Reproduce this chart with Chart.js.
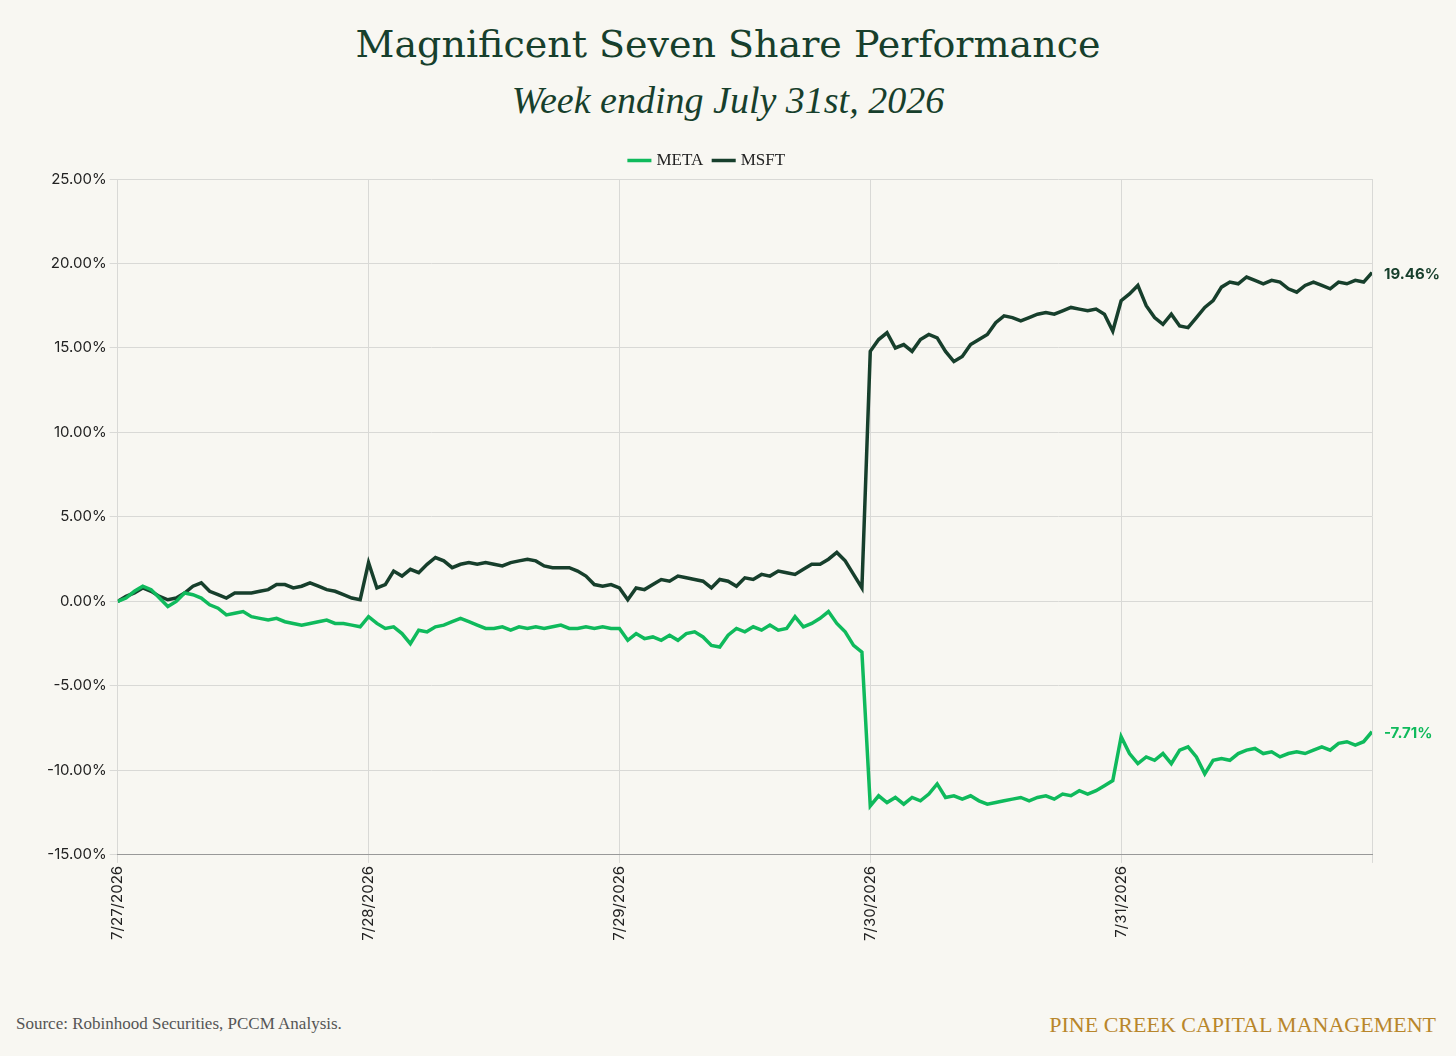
<!DOCTYPE html>
<html>
<head>
<meta charset="utf-8">
<script src="https://cdn.jsdelivr.net/npm/chart.js@4"></script>
<style>
  body { margin: 0; background: #f8f7f2; width: 1456px; height: 1056px; position: relative; overflow: hidden; }
  .titulo { position: absolute; top: 22px; width: 100%; text-align: center; font-family: "DejaVu Serif", serif; color: #173f2c; font-size: 38px; }
  .sub { position: absolute; top: 78px; width: 100%; text-align: center; font-family: "Liberation Serif", serif; font-style: italic; color: #173f2c; font-size: 38px; }
  .box { position: absolute; left: 0; top: 140px; width: 1456px; height: 804px; }
  .fonte { position: absolute; left: 16px; bottom: 22px; font-family: "Liberation Serif", serif; font-size: 17px; color: #555; }
  .marca { position: absolute; right: 20px; bottom: 18px; font-family: "Liberation Serif", serif; font-size: 22px; color: #b8862b; }
</style>
</head>
<body>
<div class="titulo">Magnificent Seven Share Performance</div>
<div class="sub">Week ending July 31st, 2026</div>
<div class="box"><canvas id="chartPerf"></canvas></div>
<div class="fonte">Source: Robinhood Securities, PCCM Analysis.</div>
<div class="marca">PINE CREEK CAPITAL MANAGEMENT</div>
<script>
document.addEventListener("DOMContentLoaded", () => {
    const dias = ["7/27/2026", "7/28/2026", "7/29/2026", "7/30/2026", "7/31/2026"];

    // retorno acumulado (%), 30 leituras por dia + fechamento
    const msft = [
        0, 0.3, 0.5, 0.8, 0.6, 0.3, 0.1, 0.2, 0.5, 0.9, 1.1, 0.6, 0.4, 0.2, 0.5, 0.5, 0.5, 0.6, 0.7, 1.0, 1.0, 0.8, 0.9, 1.1, 0.9, 0.7, 0.6, 0.4, 0.2, 0.1,
        2.3, 0.8, 1.0, 1.8, 1.5, 1.9, 1.7, 2.2, 2.6, 2.4, 2.0, 2.2, 2.3, 2.2, 2.3, 2.2, 2.1, 2.3, 2.4, 2.5, 2.4, 2.1, 2.0, 2.0, 2.0, 1.8, 1.5, 1.0, 0.9, 1.0,
        0.8, 0.1, 0.8, 0.7, 1.0, 1.3, 1.2, 1.5, 1.4, 1.3, 1.2, 0.8, 1.3, 1.2, 0.9, 1.4, 1.3, 1.6, 1.5, 1.8, 1.7, 1.6, 1.9, 2.2, 2.2, 2.5, 2.9, 2.4, 1.6, 0.8,
        14.8, 15.5, 15.9, 15.0, 15.2, 14.8, 15.5, 15.8, 15.6, 14.8, 14.2, 14.5, 15.2, 15.5, 15.8, 16.5, 16.9, 16.8, 16.6, 16.8, 17.0, 17.1, 17.0, 17.2, 17.4, 17.3, 17.2, 17.3, 17.0, 16.0,
        17.8, 18.2, 18.7, 17.5, 16.8, 16.4, 17.0, 16.3, 16.2, 16.8, 17.4, 17.8, 18.6, 18.9, 18.8, 19.2, 19.0, 18.8, 19.0, 18.9, 18.5, 18.3, 18.7, 18.9, 18.7, 18.5, 18.9, 18.8, 19.0, 18.9, 19.46
    ];
    const meta = [
        0, 0.2, 0.6, 0.9, 0.7, 0.2, -0.3, 0.0, 0.5, 0.4, 0.2, -0.2, -0.4, -0.8, -0.7, -0.6, -0.9, -1.0, -1.1, -1.0, -1.2, -1.3, -1.4, -1.3, -1.2, -1.1, -1.3, -1.3, -1.4, -1.5,
        -0.9, -1.3, -1.6, -1.5, -1.9, -2.5, -1.7, -1.8, -1.5, -1.4, -1.2, -1.0, -1.2, -1.4, -1.6, -1.6, -1.5, -1.7, -1.5, -1.6, -1.5, -1.6, -1.5, -1.4, -1.6, -1.6, -1.5, -1.6, -1.5, -1.6,
        -1.6, -2.3, -1.9, -2.2, -2.1, -2.3, -2.0, -2.3, -1.9, -1.8, -2.1, -2.6, -2.7, -2.0, -1.6, -1.8, -1.5, -1.7, -1.4, -1.7, -1.6, -0.9, -1.5, -1.3, -1.0, -0.6, -1.3, -1.8, -2.6, -3.0,
        -12.1, -11.5, -11.9, -11.6, -12.0, -11.6, -11.8, -11.4, -10.8, -11.6, -11.5, -11.7, -11.5, -11.8, -12.0, -11.9, -11.8, -11.7, -11.6, -11.8, -11.6, -11.5, -11.7, -11.4, -11.5, -11.2, -11.4, -11.2, -10.9, -10.6,
        -8.0, -9.0, -9.6, -9.2, -9.4, -9.0, -9.6, -8.8, -8.6, -9.2, -10.2, -9.4, -9.3, -9.4, -9.0, -8.8, -8.7, -9.0, -8.9, -9.2, -9.0, -8.9, -9.0, -8.8, -8.6, -8.8, -8.4, -8.3, -8.5, -8.3, -7.71
    ];

    const pontos = arr => arr.map((v, i) => ({ x: i, y: v }));

    // ----------------- RÓTULO NO ÚLTIMO PONTO -----------------
    const rotuloFinal = {
        id: "rotuloFinal",
        afterDatasetsDraw(chart) {
            const ctx = chart.ctx;
            chart.data.datasets.forEach((ds, i) => {
                const meta = chart.getDatasetMeta(i);
                const p = meta.data[meta.data.length - 1];
                const v = ds.data[ds.data.length - 1].y;
                ctx.save();
                ctx.font = "bold 15px Inter, sans-serif";
                ctx.fillStyle = ds.borderColor;
                ctx.textBaseline = "middle";
                ctx.fillText(v.toFixed(2) + "%", p.x + 12, p.y + 2);
                ctx.restore();
            });
        }
    };

    new Chart(document.getElementById("chartPerf"), {
        type: "line",
        data: {
            datasets: [
                { label: "META", data: pontos(meta), borderColor: "#0fba5c", borderWidth: 3.5, pointRadius: 0, tension: 0 },
                { label: "MSFT", data: pontos(msft), borderColor: "#173f2c", borderWidth: 3.5, pointRadius: 0, tension: 0 }
            ]
        },
        plugins: [rotuloFinal],
        options: {
            responsive: true,
            maintainAspectRatio: false,
            animation: false,
            layout: { padding: { left: 44, right: 84, top: 0, bottom: 0 } },
            plugins: {
                legend: {
                    labels: {
                        usePointStyle: true, pointStyle: "line", boxWidth: 40, padding: 12,
                        font: { family: "Liberation Serif", size: 17 }, color: "#222"
                    }
                },
                tooltip: { enabled: false }
            },
            scales: {
                x: {
                    type: "linear", min: 0, max: 150,
                    grid: { color: "#d9d9d6" },
                    border: { color: "#999" },
                    ticks: {
                        stepSize: 30, minRotation: 90, maxRotation: 90,
                        font: { family: "Inter", size: 15 }, color: "#222",
                        callback: v => dias[v / 30] || ""
                    }
                },
                y: {
                    min: -15, max: 25,
                    grid: { color: "#d9d9d6" },
                    border: { display: false },
                    ticks: {
                        stepSize: 5,
                        font: { family: "Inter", size: 15 }, color: "#222",
                        callback: v => v.toFixed(2) + "%"
                    }
                }
            }
        }
    });
});
</script>
</body>
</html>
